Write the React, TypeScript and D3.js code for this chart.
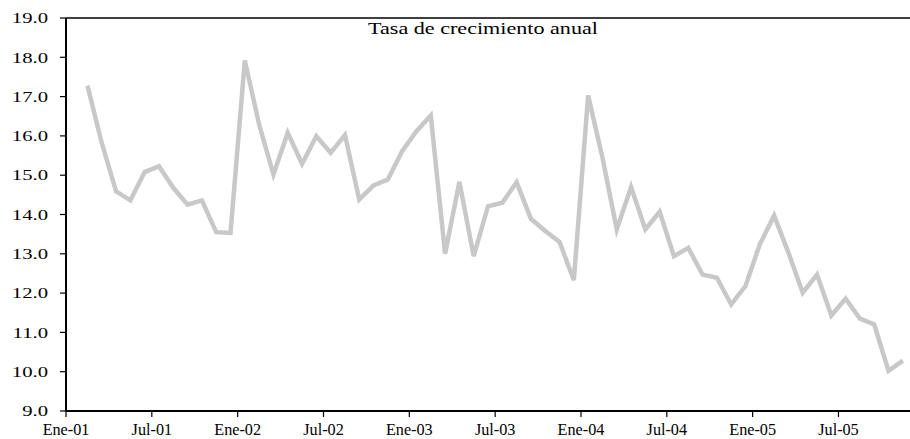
import React, { useRef, useEffect } from "react";
import * as d3 from "d3";

// monthly categories, Ene-01 .. Nov-05 (first month has no value)
const monthNames = ["Ene", "Feb", "Mar", "Abr", "May", "Jun", "Jul", "Ago", "Sep", "Oct", "Nov", "Dic"];
const years = ["01", "02", "03", "04", "05"];
const categories = years.flatMap((y) => monthNames.map((m) => `${m}-${y}`)).slice(0, 59);

const tickLabels = ["Ene-01", "Jul-01", "Ene-02", "Jul-02", "Ene-03", "Jul-03", "Ene-04", "Jul-04", "Ene-05", "Jul-05"];
const yTicks = [9, 10, 11, 12, 13, 14, 15, 16, 17, 18, 19];

// Feb-01 .. Nov-05
const values = [
  17.28, 15.82, 14.59, 14.36, 15.08, 15.23, 14.68, 14.25, 14.36, 13.55, 13.53,
  17.92, 16.29, 15.02, 16.08, 15.29, 15.99, 15.57, 16.02, 14.38, 14.74, 14.89, 15.61,
  16.12, 16.52, 13.0, 14.83, 12.94, 14.21, 14.3, 14.82, 13.89, 13.58, 13.3, 12.33,
  17.03, 15.45, 13.62, 14.7, 13.62, 14.07, 12.94, 13.15, 12.47, 12.39, 11.71, 12.18,
  13.24, 13.97, 13.03, 12.01, 12.47, 11.43, 11.86, 11.35, 11.2, 10.02, 10.28,
];
const series = values.map((v, i) => ({ cat: categories[i + 1], v }));

const title = "Tasa de crecimiento anual";

const App = () => {
  const svgRef = useRef(null);

  useEffect(() => {
    const width = 910;
    const height = 439;
    const margin = { top: 18, right: 0, bottom: 28, left: 66 };
    const font = "'Liberation Serif', 'Times New Roman', serif";

    const svg = d3.select(svgRef.current);
    svg.selectAll("*").remove();

    const x = d3
      .scaleBand()
      .domain(categories)
      .range([margin.left, width - margin.right]);

    const y = d3
      .scaleLinear()
      .domain([9, 19])
      .range([height - margin.bottom, margin.top]);

    // top border
    svg
      .append("line")
      .attr("x1", margin.left)
      .attr("x2", width)
      .attr("y1", y(19))
      .attr("y2", y(19))
      .attr("stroke", "#000")
      .attr("stroke-width", 1.5);

    // y axis
    const yAxis = svg.append("g").attr("transform", `translate(${margin.left},0)`);
    yAxis
      .append("line")
      .attr("y1", y(19))
      .attr("y2", y(9))
      .attr("stroke", "#000")
      .attr("stroke-width", 2);
    const yt = yAxis.selectAll(".yt").data(yTicks).enter().append("g").attr("transform", (d) => `translate(0,${y(d)})`);
    yt.append("line").attr("x1", -6).attr("x2", 0).attr("stroke", "#000").attr("stroke-width", 1.2);
    yt.append("text")
      .attr("transform", "translate(-18,0) scale(1.38,1)")
      .attr("text-anchor", "end")
      .attr("dy", "0.35em")
      .attr("font-family", font)
      .attr("font-size", 15)
      .attr("fill", "#000")
      .text((d) => d3.format(".1f")(d));

    // x axis
    const xAxis = svg.append("g").attr("transform", `translate(0,${y(9)})`);
    xAxis
      .append("line")
      .attr("x1", margin.left)
      .attr("x2", width)
      .attr("stroke", "#000")
      .attr("stroke-width", 2);
    const xt = xAxis
      .selectAll(".xt")
      .data(tickLabels)
      .enter()
      .append("g")
      .attr("transform", (d) => `translate(${x(d)},0)`);
    xt.append("line").attr("y1", 0).attr("y2", 6).attr("stroke", "#000").attr("stroke-width", 1.2);
    xt.append("text")
      .attr("y", 24)
      .attr("text-anchor", "middle")
      .attr("font-family", font)
      .attr("font-size", 16.2)
      .attr("fill", "#000")
      .text((d) => d);

    // title
    svg
      .append("text")
      .attr("transform", `translate(483,34) scale(1.34,1)`)
      .attr("text-anchor", "middle")
      .attr("font-family", font)
      .attr("font-size", 16.5)
      .attr("fill", "#000")
      .text(title);

    // line
    const line = d3
      .line()
      .x((d) => x(d.cat) + x.bandwidth() / 2)
      .y((d) => y(d.v));

    svg
      .append("path")
      .datum(series)
      .attr("d", line)
      .attr("fill", "none")
      .attr("stroke", "#c8c8c8")
      .attr("stroke-width", 4.5)
      .attr("stroke-linejoin", "miter")
      .attr("stroke-linecap", "butt");
  }, []);

  return (
    <svg
      ref={svgRef}
      width={910}
      height={439}
      style={{ position: "absolute", left: 0, top: 0, background: "#fff" }}
    ></svg>
  );
};

export default App;
